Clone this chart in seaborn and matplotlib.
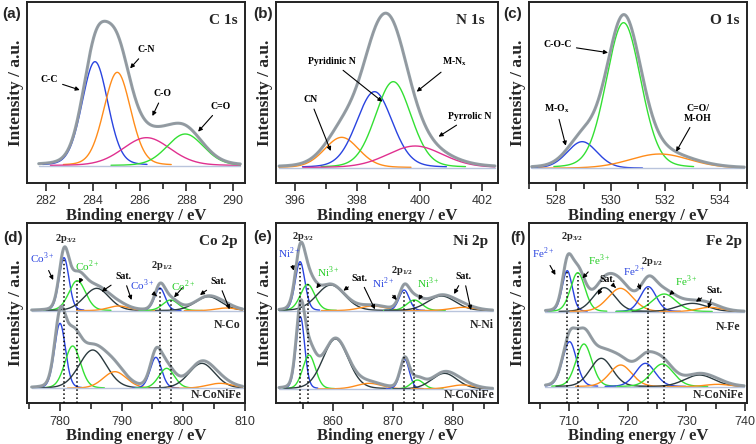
import numpy as np
import matplotlib
matplotlib.use("Agg")
import matplotlib.pyplot as plt
import seaborn as sns
import pandas as pd

# fitted components: centre (eV), height (a.u.), FWHM (eV)
C1S_NAMES = ['C-C', 'C-N', 'C-O', 'C=O']
C1S_CENTER = [284.1, 285.05, 286.3, 287.95]
C1S_HEIGHT = [312, 280, 84, 95]
C1S_FWHM = [1.3, 1.35, 2.4, 1.85]

N1S_NAMES = ['CN', 'Pyridinic N', 'M-Nx', 'Pyrrolic N']
N1S_CENTER = [397.5, 398.55, 399.15, 399.85]
N1S_HEIGHT = [91, 228, 258, 65]
N1S_FWHM = [1.3, 1.35, 1.35, 2.1]

O1S_NAMES = ['M-Ox', 'C-O-C', 'C=O/M-OH']
O1S_CENTER = [528.95, 530.47, 531.8]
O1S_HEIGHT = [80, 437, 43]
O1S_FWHM = [1.3, 1.5, 2.6]

# 2p spectra: order = M(a), M(b), sat, sat for 2p3/2 then 2p1/2
CO_TOP_CENTER = [780.65, 782.8, 785.95, 789.5, 796.2, 797.95, 804.05, 807.0]
CO_TOP_HEIGHT = [159, 90, 67, 14, 68, 32, 42, 8]
CO_TOP_FWHM = [1.9, 3.2, 4.8, 4.0, 2.0, 3.0, 5.0, 4.0]
CO_BOT_CENTER = [780.0, 782.05, 785.3, 788.9, 795.55, 797.3, 803.0, 805.95]
CO_BOT_HEIGHT = [195, 127, 115, 50, 93, 60, 75, 15]
CO_BOT_FWHM = [2.1, 3.0, 5.2, 4.5, 2.2, 3.0, 5.0, 5.0]

NI_TOP_CENTER = [854.5, 855.75, 859.6, 866.6, 871.8, 873.5, 878.0, 881.6]
NI_TOP_HEIGHT = [147, 79, 77, 14, 62, 32, 44, 10]
NI_TOP_FWHM = [1.9, 2.8, 5.5, 5.0, 2.0, 3.0, 5.5, 5.0]
NI_BOT_CENTER = [854.55, 856.0, 860.4, 866.0, 871.9, 874.0, 878.5, 881.5]
NI_BOT_HEIGHT = [217, 102, 150, 17, 89, 27, 47, 12]
NI_BOT_FWHM = [1.7, 2.5, 5.0, 5.0, 1.8, 2.5, 5.0, 5.0]

FE_TOP_CENTER = [709.7, 711.5, 716.0, 718.75, 723.5, 726.2, 731.0, 734.0]
FE_TOP_HEIGHT = [123, 117, 72, 70, 75, 53, 25, 13]
FE_TOP_FWHM = [2.0, 2.9, 4.5, 5.0, 3.2, 4.8, 6.0, 5.0]
FE_BOT_CENTER = [710.1, 712.55, 715.5, 718.8, 723.0, 725.9, 732.2, 735.3]
FE_BOT_HEIGHT = [135, 128, 85, 65, 70, 68, 35, 7]
FE_BOT_FWHM = [2.8, 3.2, 4.5, 4.5, 4.0, 4.5, 6.0, 5.0]

BLUE, ORANGE, PINK, GREEN, DARK = '#2a44e0', '#ff8c1a', '#e0308f', '#33e033', '#2b3a3f'
ENV = '#8d9ca2'
COLORS_2P = [BLUE, GREEN, DARK, ORANGE] * 2

sns.set_style("ticks")
plt.rcParams['font.family'] = ['Liberation Serif', 'DejaVu Serif']
plt.rcParams['mathtext.fontset'] = 'custom'
plt.rcParams['mathtext.rm'] = 'Liberation Serif'
plt.rcParams['mathtext.bf'] = 'Liberation Serif:bold'


def peak(x, c, h, w, eta=0.15):
    s = w / 2.3548
    g = np.exp(-(x - c) ** 2 / (2 * s * s))
    lo = 1 / (1 + ((x - c) / (w / 2)) ** 2)
    return h * ((1 - eta) * g + eta * lo)


def draw_spectrum(ax, x, centers, heights, fwhms, colors, offset=0):
    total = np.zeros_like(x)
    for c, h, w, col in zip(centers, heights, fwhms, colors):
        y = peak(x, c, h, w)
        total += y
        keep = y > 0.012 * h  # components fade into the baseline
        sns.lineplot(x=x[keep], y=y[keep] + offset, ax=ax, color=col, lw=1, sort=False, estimator=None)
    sns.lineplot(x=x, y=np.full_like(x, offset), ax=ax, color='#b9c4dc', lw=1, sort=False, estimator=None)
    sns.lineplot(x=x, y=total + offset, ax=ax, color='#ff4060', lw=1, sort=False, estimator=None)
    sns.lineplot(x=x, y=total + offset, ax=ax, color=ENV, lw=2.2, alpha=0.95, sort=False, estimator=None)
    return total


def note(ax, text, xyt, tips, color='k', size=7, weight='bold'):
    for i, tip in enumerate(tips):
        ax.annotate(text, xy=tip, xytext=xyt, ha='center', va='center', fontsize=size,
                    fontweight=weight, color=color if i == 0 else 'none',
                    arrowprops=dict(arrowstyle='-|>', color='k', lw=0.8, mutation_scale=6,
                                    shrinkA=1, shrinkB=0))


def style_axis(ax, xlim, ylim, major, minor, title, tx):
    ax.set_xlim(*xlim)
    ax.set_ylim(*ylim)
    ax.set_xticks(np.arange(np.ceil(xlim[0] / major) * major, xlim[1] + 0.01, major))
    ax.set_xticks(np.arange(np.ceil(xlim[0] / minor) * minor, xlim[1] + 0.01, minor), minor=True)
    ax.set_yticks([])
    for sp in ax.spines.values():
        sp.set_visible(True)
        sp.set_linewidth(1.4)
        sp.set_color('#222222')
    ax.tick_params(axis='x', which='major', direction='out', length=6, width=1.2, pad=3,
                   labelsize=9, labelcolor='#333333')
    ax.tick_params(axis='x', which='minor', direction='out', length=4, width=1.2)
    for lab in ax.get_xticklabels():
        lab.set_fontfamily('Liberation Sans')
    ax.set_xlabel('Binding energy / eV', fontsize=12, fontweight='bold', labelpad=0)
    ax.set_ylabel('Intensity / a.u.', fontsize=12.5, fontweight='bold', labelpad=2)
    ax.text(tx, 0.9, title, transform=ax.transAxes, ha='right', va='center',
            fontsize=11, fontweight='bold')


fig = plt.figure(figsize=(7.56, 4.44), dpi=100)
lefts = [27 / 756, 276 / 756, 529 / 756]
widths = [218 / 756, 222 / 756, 218 / 756]
top_b, top_h = 1 - 183 / 444, 181 / 444
bot_b, bot_h = 1 - 403 / 444, 180 / 444

axa = fig.add_axes([lefts[0], top_b, widths[0], top_h])
axb = fig.add_axes([lefts[1], top_b, widths[1], top_h])
axc = fig.add_axes([lefts[2], top_b, widths[2], top_h])
axd = fig.add_axes([lefts[0], bot_b, widths[0], bot_h])
axe = fig.add_axes([lefts[1], bot_b, widths[1], bot_h])
axf = fig.add_axes([lefts[2], bot_b, widths[2], bot_h])

# panel letters
for lab, px, py in [('(a)', 12, 14), ('(b)', 263, 14), ('(c)', 513, 14),
                    ('(d)', 13, 238), ('(e)', 263, 237), ('(f)', 518, 238)]:
    fig.text(px / 756, 1 - py / 444, lab, ha='center', va='center', fontsize=11,
             fontweight='bold', family='Liberation Sans')

# (a) C 1s
x = np.linspace(281.7, 290.3, 500)
draw_spectrum(axa, x, C1S_CENTER, C1S_HEIGHT, C1S_FWHM, [BLUE, ORANGE, PINK, GREEN])
style_axis(axa, (281.2, 290.5), (-52, 491), 2, 1, 'C 1s', 0.965)
note(axa, 'C-C', (282.15, 257), [(283.45, 227)])
note(axa, 'C-N', (286.3, 347), [(285.6, 292)])
note(axa, 'C-O', (287.0, 215), [(286.55, 149)])
note(axa, 'C=O', (289.45, 177), [(288.5, 102)])

# (b) N 1s
x = np.linspace(395.5, 402.4, 500)
draw_spectrum(axb, x, N1S_CENTER, N1S_HEIGHT, N1S_FWHM, [ORANGE, BLUE, GREEN, PINK])
style_axis(axb, (395.4, 402.5), (-46, 497), 2, 1, 'N 1s', 0.94)
note(axb, 'CN', (396.5, 203), [(397.15, 50)])
note(axb, 'Pyridinic N', (397.2, 318), [(398.8, 198)])
note(axb, 'M-N$_{\\mathbf{x}}$', (401.1, 318), [(399.9, 228)])
note(axb, 'Pyrrolic N', (401.6, 153), [(400.6, 93)])

# (c) O 1s
x = np.linspace(527.1, 534.9, 500)
draw_spectrum(axc, x, O1S_CENTER, O1S_HEIGHT, O1S_FWHM, [BLUE, GREEN, ORANGE])
style_axis(axc, (527.0, 535.0), (-44, 499), 2, 1, 'O 1s', 0.965)
note(axc, 'C-O-C', (528.05, 370), [(529.9, 347)])
note(axc, 'M-O$_{\\mathbf{x}}$', (528.0, 180), [(528.35, 68)])
note(axc, 'C=O/\nM-OH', (533.2, 165), [(532.4, 50)])


def draw_2p(ax, xr, top, bot, offs, lines_n):
    x = np.linspace(xr[0], xr[1], 700)
    draw_spectrum(ax, x, *top, COLORS_2P, offset=offs[0])
    draw_spectrum(ax, x, *bot, COLORS_2P, offset=offs[1])
    # dotted guide lines at the metal peaks of the upper spectrum
    cen, hei = top[0], top[1]
    for i in lines_n:
        ax.vlines(cen[i], 0, offs[0] + hei[i], colors='k', linestyles=':', lw=1.1, zorder=5)


# (d) Co 2p
draw_2p(axd, (775.4, 809.6), (CO_TOP_CENTER, CO_TOP_HEIGHT, CO_TOP_FWHM),
        (CO_BOT_CENTER, CO_BOT_HEIGHT, CO_BOT_FWHM), (277, 44), [0, 1, 4, 5])
style_axis(axd, (774.65, 810.0), (0, 540), 10, 5, 'Co 2p', 0.965)
axd.text(780.97, 494, '2p$_{\\mathbf{3/2}}$', ha='center', va='center', fontsize=7.5, fontweight='bold')
axd.text(796.6, 414, '2p$_{\\mathbf{1/2}}$', ha='center', va='center', fontsize=7.5, fontweight='bold')
note(axd, 'Co$^{3+}$', (777.2, 434), [(778.9, 369)], color=BLUE, size=8, weight='normal')
note(axd, 'Co$^{2+}$', (784.4, 409), [(783.1, 359)], color='#22cc22', size=8, weight='normal')
note(axd, 'Sat.', (790.3, 379), [(786.75, 334), (791.6, 309)])
note(axd, 'Co$^{3+}$', (793.4, 354), [(795.7, 321)], color=BLUE, size=8, weight='normal')
note(axd, 'Co$^{2+}$', (800.0, 349), [(798.5, 317)], color='#22cc22', size=8, weight='normal')
note(axd, 'Sat.', (805.7, 364), [(802.7, 324), (807.5, 281)])
axd.text(0.98, 234 / 540, 'N-Co', transform=axd.transAxes, ha='right', va='center', fontsize=8.5, fontweight='bold')
axd.text(0.985, 24 / 540, 'N-CoNiFe', transform=axd.transAxes, ha='right', va='center', fontsize=8.5, fontweight='bold')

# (e) Ni 2p
draw_2p(axe, (851.0, 886.5), (NI_TOP_CENTER, NI_TOP_HEIGHT, NI_TOP_FWHM),
        (NI_BOT_CENTER, NI_BOT_HEIGHT, NI_BOT_FWHM), (277, 42), [0, 1, 4, 5])
style_axis(axe, (850.5, 887.4), (0, 540), 10, 5, 'Ni 2p', 0.955)
axe.text(855.0, 499, '2p$_{\\mathbf{3/2}}$', ha='center', va='center', fontsize=7.5, fontweight='bold')
axe.text(871.4, 399, '2p$_{\\mathbf{1/2}}$', ha='center', va='center', fontsize=7.5, fontweight='bold')
note(axe, 'Ni$^{2+}$', (852.7, 449), [(853.45, 397)], color=BLUE, size=8, weight='normal')
note(axe, 'Ni$^{3+}$', (859.2, 391), [(857.2, 344)], color='#22cc22', size=8, weight='normal')
note(axe, 'Sat.', (864.45, 374), [(861.7, 337), (866.95, 281)])
note(axe, 'Ni$^{2+}$', (868.3, 359), [(870.55, 309)], color=BLUE, size=8, weight='normal')
note(axe, 'Ni$^{3+}$', (875.8, 359), [(874.2, 309)], color='#22cc22', size=8, weight='normal')
note(axe, 'Sat.', (881.7, 379), [(880.1, 327), (882.9, 279)])
axe.text(0.98, 234 / 540, 'N-Ni', transform=axe.transAxes, ha='right', va='center', fontsize=8.5, fontweight='bold')
axe.text(0.985, 24 / 540, 'N-CoNiFe', transform=axe.transAxes, ha='right', va='center', fontsize=8.5, fontweight='bold')

# (f) Fe 2p
draw_2p(axf, (706.0, 739.8), (FE_TOP_CENTER, FE_TOP_HEIGHT, FE_TOP_FWHM),
        (FE_BOT_CENTER, FE_BOT_HEIGHT, FE_BOT_FWHM), (274, 49), [0, 1, 4, 5])
style_axis(axf, (703.2, 740.3), (0, 540), 10, 5, 'Fe 2p', 0.975)
axf.text(710.55, 499, '2p$_{\\mathbf{3/2}}$', ha='center', va='center', fontsize=7.5, fontweight='bold')
axf.text(724.2, 424, '2p$_{\\mathbf{1/2}}$', ha='center', va='center', fontsize=7.5, fontweight='bold')
note(axf, 'Fe$^{2+}$', (705.6, 449), [(707.7, 384)], color=BLUE, size=8, weight='normal')
note(axf, 'Fe$^{3+}$', (715.1, 429), [(712.3, 374)], color='#22cc22', size=8, weight='normal')
note(axf, 'Sat.', (716.5, 371), [(714.9, 324), (717.95, 346)])
note(axf, 'Fe$^{2+}$', (721.1, 394), [(722.2, 339)], color=BLUE, size=8, weight='normal')
note(axf, 'Fe$^{3+}$', (729.9, 364), [(727.05, 324)], color='#22cc22', size=8, weight='normal')
note(axf, 'Sat.', (734.7, 339), [(731.6, 304), (733.7, 284)])
axf.text(0.97, 229 / 540, 'N-Fe', transform=axf.transAxes, ha='right', va='center', fontsize=8.5, fontweight='bold')
axf.text(0.985, 24 / 540, 'N-CoNiFe', transform=axf.transAxes, ha='right', va='center', fontsize=8.5, fontweight='bold')

plt.savefig('out.png', dpi=100)
